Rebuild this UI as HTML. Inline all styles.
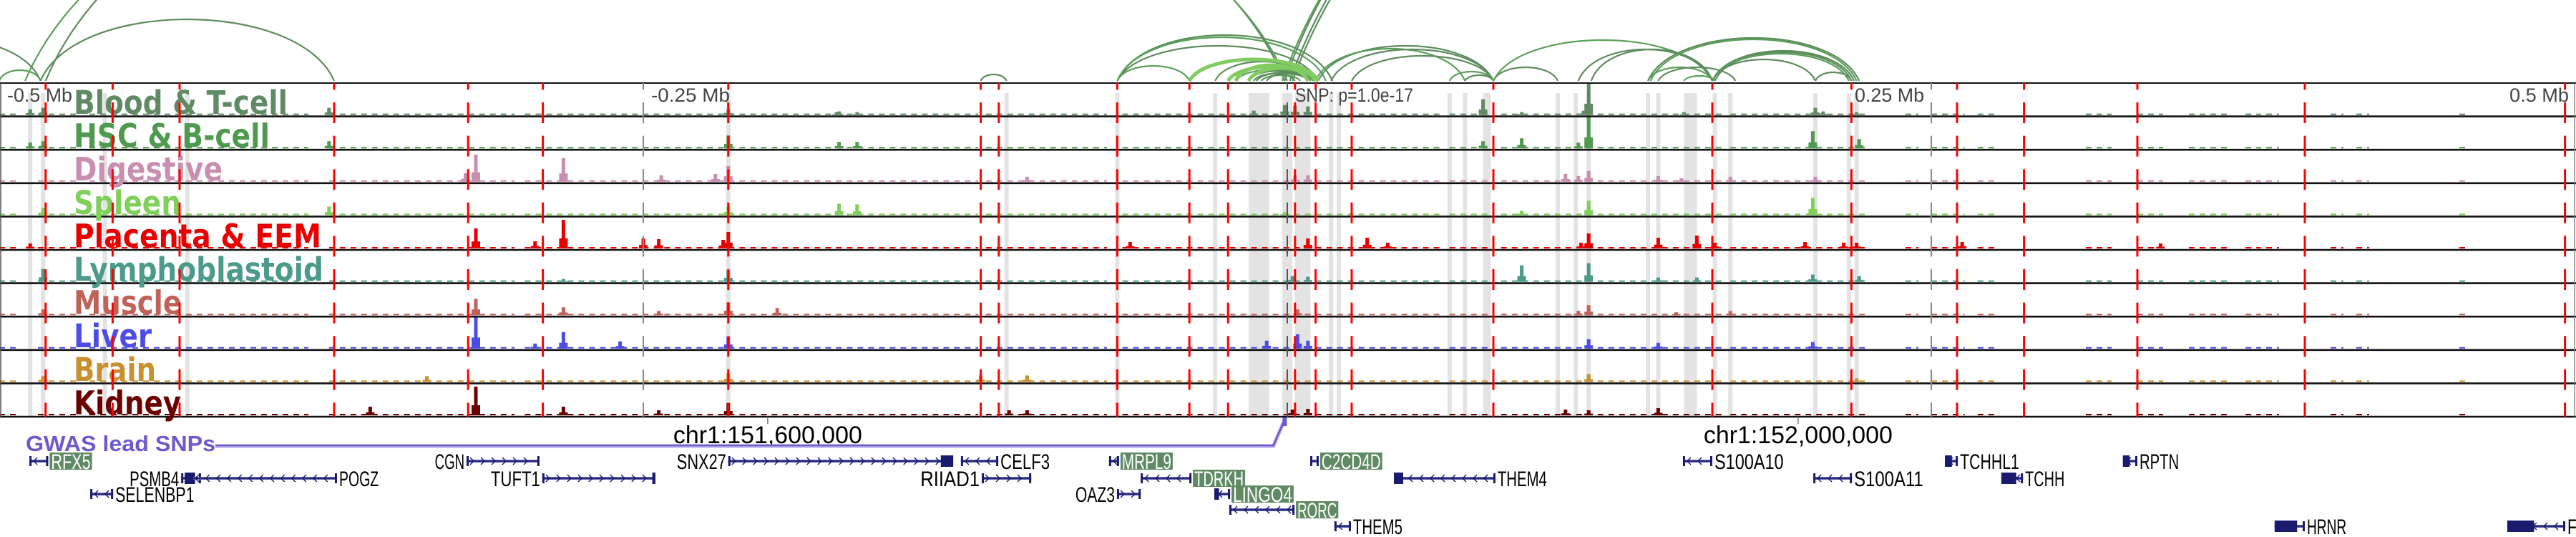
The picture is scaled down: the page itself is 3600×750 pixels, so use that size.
<!DOCTYPE html>
<html><head><meta charset="utf-8"><title>Genome browser tracks</title>
<style>
html,body{margin:0;padding:0;background:#fff;width:3600px;height:750px;overflow:hidden}
svg{display:block}
text{font-family:"Liberation Sans",sans-serif}
</style></head>
<body>
<svg id="chart" width="3600" height="750" viewBox="0 0 3600 750" xmlns="http://www.w3.org/2000/svg">
<g id="bands"></g>
<g id="arcs"></g>
<g id="tracks"></g>
<g id="labels"></g>
<g id="vlines"></g>
<g id="axis"></g>
<g id="genes"></g>
</svg>
<script>
// ---- data (genomic offsets in kb relative to lead SNP) ----
const trackNames = ["Blood & T-cell","HSC & B-cell","Digestive","Spleen","Placenta & EEM","Lymphoblastoid","Muscle","Liver","Brain","Kidney"];
const trackColors = ["#5f8a63","#4f9a4f","#c98fb0","#7fcf5a","#e60000","#4b9a8a","#c0625a","#4d4de6","#c8902e","#6b0000"];
const labelWidths = [299,274,208,150,346,349,151,109,115,150];
const peaksBlood = [[-488,8],[-483,10],[-372,10],[-217,8],[-175,4],[-174,5],[-167,4],[-13,6],[-1,14],[3,13],[8,12],[76,22],[91,4],[115,6],[117,45],[154,4],[205,10],[208,5],[221,4]];
const peaksHSC = [[-488,8],[-483,10],[-372,10],[-217,18],[-174,9],[-167,9],[76,10],[91,14],[113,8],[117,44],[204,24],[222,13]];
const peaksDigestive = [[-319,12],[-315,38],[-281,33],[-243,9],[-222,11],[-217,22],[-101,7],[3,9],[8,9],[108,11],[113,8],[117,15],[144,8],[153,5],[172,7],[205,7]];
const peaksSpleen = [[-483,10],[-372,12],[-217,12],[-174,16],[-167,15],[-1,4],[91,6],[117,20],[204,24]];
const peaksPlacenta = [[-488,7],[-315,28],[-292,10],[-281,40],[-250,14],[-244,13],[-219,12],[-217,23],[-61,9],[8,14],[31,15],[39,8],[114,8],[117,21],[144,15],[159,18],[166,8],[201,9],[216,8],[221,8],[262,9],[339,7]];
const peaksLympho = [[-483,18],[-281,4],[-217,16],[2,8],[8,7],[91,23],[117,26],[144,6],[159,6],[204,10],[222,8]];
const peaksMuscle = [[-483,8],[-315,23],[-281,11],[-244,6],[-217,18],[-198,10],[4,8],[113,6],[117,14],[151,4],[172,6]];
const peaksLiver = [[-315,44],[-292,7],[-281,23],[-259,10],[-217,16],[-8,11],[4,20],[8,11],[117,13],[144,8],[204,9]];
const peaksBrain = [[-483,8],[-334,8],[-217,12],[-119,9],[-101,9],[117,11],[221,5]];
const peaksKidney = [[-356,12],[-315,40],[-281,12],[-244,7],[-217,17],[-108,7],[-101,7],[2,8],[8,9],[108,8],[117,7],[144,10]];
const noiseSegs = [[-500,-492],[-485,-470],[-465,-380],[-372,-300],[-296,-120],[-117,-70],[-64,60],[63,80],[83,170],[172,225],[240,245],[250,263],[268,275],[310,320],[330,340],[350,365],[372,378],[380,385],[405,410],[415,420],[455,458]];
const redLines = [-482,-456,-430,-370,-318,-289,-217,-119,-112,-66,-38,-23,3,11,25,80,165,219,260,286,330,395,496];
const bandSingles = [-488,-483,-459,-427,-217,-109,-66,-28,17,20,63,69,105,112,117,140,144,166,172,205,218,221];
const bandRanges = [[-15,-7],[-2,2],[3,9],[76,79],[154,159]];
const axisTicks = [-500,-250,0,250,500];
const axisLabels = ["-0.5 Mb","-0.25 Mb","SNP: p=1.0e-17","0.25 Mb","0.5 Mb"];
const axisLabelWidths = [91,110,165,97,83];
const rulerPos = [-201.7,198.3];
const rulerLabels = ["chr1:151,600,000","chr1:152,000,000"];
const arcsDark = [[-560,-484,60],[-500,-484,15],[-484,-370,86],[-482,-1,380],[-490,0,372],[-1,750,700],[1,700,650],[-2,800,720],[2,760,680],[-119,-109,9],[-66,-38,21],[-66,12,49],[-66,17.5,64],[-66,15,61],[-28,9,27],[-13,3,10],[-10,5,8],[-8,8,10],[-15,8,14],[-20,10,16],[-12,11,12],[12,80,49],[11,69,45],[17,80,44],[25,80,35],[63,80,13],[69,80,8],[80,105,19],[80,165,57],[113,165,44],[118,165,44],[140,165,19],[144,174,19],[140,222,60],[141,221,58],[165,220,42],[166,219,40],[165,218,38],[165,205,30],[205,219,12],[154,166,7]];
const arcsLight = [[-38,12,30],[-23,12,20],[-20,8,22],[-15,11,18]];
const genes = [
 {name:"RFX5",s:-488.3,e:-481,row:0,str:"-",side:"r",box:true},
 {name:"CGN",s:-318.6,e:-290.3,row:0,str:"+",side:"l"},
 {name:"SNX27",s:-217,e:-129.7,row:0,str:"+",side:"l",thick:[-134.5,-129.7]},
 {name:"CELF3",s:-126.7,e:-112.2,row:0,str:"-",side:"r"},
 {name:"MRPL9",s:-69.2,e:-65.3,row:0,str:"-",side:"r",box:true},
 {name:"C2CD4D",s:8.9,e:12.2,row:0,str:"-",side:"r",box:true},
 {name:"S100A10",s:153.6,e:165,row:0,str:"-",side:"r"},
 {name:"TCHHL1",s:255.3,e:260.3,row:0,str:"-",side:"r",thick:[255.3,258]},
 {name:"RPTN",s:324.4,e:330,row:0,str:"-",side:"r",thick:[324.4,327]},
 {name:"PSMB4",s:-429.4,e:-421.7,row:1,str:"+",side:"l",thick:[-428,-424]},
 {name:"POGZ",s:-425.6,e:-368.9,row:1,str:"-",side:"r"},
 {name:"TUFT1",s:-289.2,e:-245.3,row:1,str:"+",side:"l",thick:[-246.5,-245.3]},
 {name:"RIIAD1",s:-118.6,e:-99.4,row:1,str:"+",side:"l"},
 {name:"TDRKH",s:-56.9,e:-37.2,row:1,str:"-",side:"r",box:true},
 {name:"THEM4",s:41.4,e:80.8,row:1,str:"-",side:"r",thick:[41.4,45]},
 {name:"S100A11",s:204.2,e:219.2,row:1,str:"-",side:"r"},
 {name:"TCHH",s:277.2,e:285.6,row:1,str:"-",side:"r",thick:[277.2,283]},
 {name:"SELENBP1",s:-464.7,e:-455.8,row:2,str:"-",side:"r"},
 {name:"OAZ3",s:-66.1,e:-56.9,row:2,str:"+",side:"l"},
 {name:"LINGO4",s:-28.3,e:-22.2,row:2,str:"-",side:"r",box:true,thick:[-28.3,-26.5]},
 {name:"RORC",s:-22.5,e:2.8,row:3,str:"-",side:"r",box:true},
 {name:"THEM5",s:18.3,e:24.7,row:4,str:"-",side:"r"},
 {name:"HRNR",s:383.3,e:395,row:4,str:"-",side:"r",thick:[383.3,392]},
 {name:"FLG",s:473.6,e:496.1,row:4,str:"-",side:"r",thick:[473.6,484]}
];
const allPeaks = [peaksBlood,peaksHSC,peaksDigestive,peaksSpleen,peaksPlacenta,peaksLympho,peaksMuscle,peaksLiver,peaksBrain,peaksKidney];

const NS="http://www.w3.org/2000/svg";
const X0=1799, PXKB=3.6, TOP=116, ROWH=46.6, NROW=10, BOTTOM=TOP+ROWH*NROW, ARCBASE=113;
const xs = kb => X0 + kb*PXKB;
function el(tag,attrs,parent){const e=document.createElementNS(NS,tag);for(const k in attrs)e.setAttribute(k,attrs[k]);parent.appendChild(e);return e;}
const gBands=document.getElementById('bands'),gArcs=document.getElementById('arcs'),gTracks=document.getElementById('tracks'),gLabels=document.getElementById('labels'),gV=document.getElementById('vlines'),gAxis=document.getElementById('axis'),gGenes=document.getElementById('genes');

bandSingles.forEach(k=>{const r=el('rect',{x:xs(k)-3,y:TOP+14,width:6,height:BOTTOM-TOP-14,fill:'#e3e3e3'},gBands);

});
bandRanges.forEach(([a,b])=>{const r=el('rect',{x:xs(a),y:TOP+14,width:xs(b)-xs(a),height:BOTTOM-TOP-14,fill:'#e3e3e3'},gBands);

});

function arcPath(a,b,h){const x1=xs(a),x2=xs(b),L=x2-x1;const c=1.333*h;return `M${x1},${ARCBASE} C${x1+0.12*L},${ARCBASE-c} ${x2-0.12*L},${ARCBASE-c} ${x2},${ARCBASE}`;}
arcsDark.forEach(([a,b,h],i)=>{const p=el('path',{d:arcPath(a,b,h),fill:'none',stroke:i%3===1?'#5aa05a':'#5e8c5e','stroke-width':2.2},gArcs);

});
arcsLight.forEach(([a,b,h])=>{const p=el('path',{d:arcPath(a,b,h),fill:'none',stroke:'#80cc60','stroke-width':5},gArcs);

});
el('rect',{x:0,y:ARCBASE+1,width:3600,height:4,fill:'#fff'},gArcs);

for(let i=0;i<NROW;i++){
  const top=TOP+i*ROWH, base=top+ROWH-2, col=trackColors[i];
  const g=el('g',{},gTracks);
  
  
  noiseSegs.forEach(([a,b])=>{const n=el('line',{x1:xs(a),x2:xs(b),y1:base-1,y2:base-1,stroke:col,'stroke-width':2,'stroke-dasharray':'8 7'},g);
  
  });
  allPeaks[i].forEach(([k,h])=>{const x=xs(k);
    const s=el('rect',{x:x-6,y:base-h*0.35,width:12,height:h*0.35,fill:col},g);
    
    
    const r=el('rect',{x:x-2.5,y:base-h,width:5,height:h,fill:col},g);
    
    });
  const t=el('text',{x:103,y:top+43,fill:col,'font-size':45,'font-weight':'bold',style:'font-family:"DejaVu Sans","Liberation Sans",sans-serif',textLength:labelWidths[i],lengthAdjust:'spacingAndGlyphs'},gLabels);
  t.textContent=trackNames[i];
  
  
}
for(let i=0;i<=NROW;i++){const y=TOP+i*ROWH;const l=el('line',{x1:0,x2:3600,y1:y,y2:y,stroke:'#111','stroke-width':i===0?2:2.6},gTracks);

}
el('line',{x1:3598,x2:3598,y1:TOP,y2:BOTTOM,stroke:'#888','stroke-width':1.5},gTracks);
el('line',{x1:1,x2:1,y1:TOP,y2:BOTTOM,stroke:'#555','stroke-width':1.5},gTracks);

axisTicks.forEach((k,i)=>{if(i===0||i===4)return;const l=el('line',{x1:xs(k),x2:xs(k),y1:TOP,y2:BOTTOM,stroke:i===2?'#555':'#888','stroke-width':2,'stroke-dasharray':'29 17.6','stroke-dashoffset':19.6},gV);

});
redLines.forEach(k=>{const l=el('line',{x1:xs(k),x2:xs(k),y1:TOP,y2:BOTTOM,stroke:'#ff0000','stroke-width':3,'stroke-dasharray':'29 17.6','stroke-dashoffset':19.6},gV);

});

axisTicks.forEach((k,i)=>{let x=xs(k),anchor='start';
  if(i===0)x=10; else if(i===1)x=xs(k)+11; else if(i===2)x=xs(k)+11; else if(i===3){x=xs(k)-10;anchor='end';} else {x=3590;anchor='end';}
  const t=el('text',{x:x,y:142,fill:'#444','font-size':27,'text-anchor':anchor,textLength:axisLabelWidths[i],lengthAdjust:'spacingAndGlyphs'},gAxis);
  t.textContent=axisLabels[i];
  
  });
rulerPos.forEach((k,i)=>{el('line',{x1:xs(k),x2:xs(k),y1:BOTTOM,y2:BOTTOM+10,stroke:'#777','stroke-width':1.5},gAxis);
  const t=el('text',{x:xs(k)-132,y:619,fill:'#000','font-size':34,textLength:264,lengthAdjust:'spacingAndGlyphs'},gAxis);
  t.textContent=rulerLabels[i];
  
  });

const gw=el('text',{x:36,y:630,fill:'#6a5acd','font-size':31,'font-weight':'bold',textLength:265,lengthAdjust:'spacingAndGlyphs'},gAxis);
gw.textContent='GWAS lead SNPs';


el('polyline',{points:`301,623 ${xs(-5.4)},623 ${xs(-1)},586`,fill:'none',stroke:'#b6acec','stroke-width':5},gAxis);
const gl=el('polyline',{points:`301,622 ${xs(-5.4)},622 ${xs(-1)},586`,fill:'none',stroke:'#6a5acd','stroke-width':2.5},gAxis);


const sm=el('rect',{x:xs(-1)-3,y:583,width:6,height:12,fill:'#6a5acd'},gAxis);



const rowY=[644,668,690,712,735];
genes.forEach(gn=>{
  const y=rowY[gn.row], x1=xs(gn.s), x2=xs(gn.e);
  const g=el('g',{},gGenes);
  
  
  el('line',{x1:x1,x2:x2,y1:y,y2:y,stroke:'#6264a8','stroke-width':4},g);
  el('line',{x1:x1,x2:x2,y1:y,y2:y,stroke:'#1a1a6e','stroke-width':1.6},g);
  el('rect',{x:x1,y:y-7,width:3,height:14,fill:'#1a1a6e'},g);
  el('rect',{x:x2-3,y:y-7,width:3,height:14,fill:'#1a1a6e'},g);
  if(gn.thick)el('rect',{x:xs(gn.thick[0]),y:y-8,width:Math.max(4,xs(gn.thick[1])-xs(gn.thick[0])),height:16,fill:'#1a1a6e'},g);
  let d='';
  for(let cx=x1+8;cx<x2-5;cx+=15){d+=gn.str==='+'?`M${cx-3},${y-5} L${cx+2},${y} L${cx-3},${y+5} `:`M${cx+3},${y-5} L${cx-2},${y} L${cx+3},${y+5} `;}
  if(d)el('path',{d:d,fill:'none',stroke:'#1a1a6e','stroke-width':1.4},g);
  const w=gn.name.length*13.8;
  const tx=gn.side==='r'?x2+3:x1-3-w;
  if(gn.box)el('rect',{x:tx-1,y:y-12,width:w+4,height:24,fill:'#5f8a63'},g);
  const t=el('text',{x:tx+(gn.box?1:0),y:y+11,fill:gn.box?'#fff':'#000','font-size':30,textLength:w,lengthAdjust:'spacingAndGlyphs'},g);
  t.textContent=gn.name;
  
  
});
</script>
</body></html>
